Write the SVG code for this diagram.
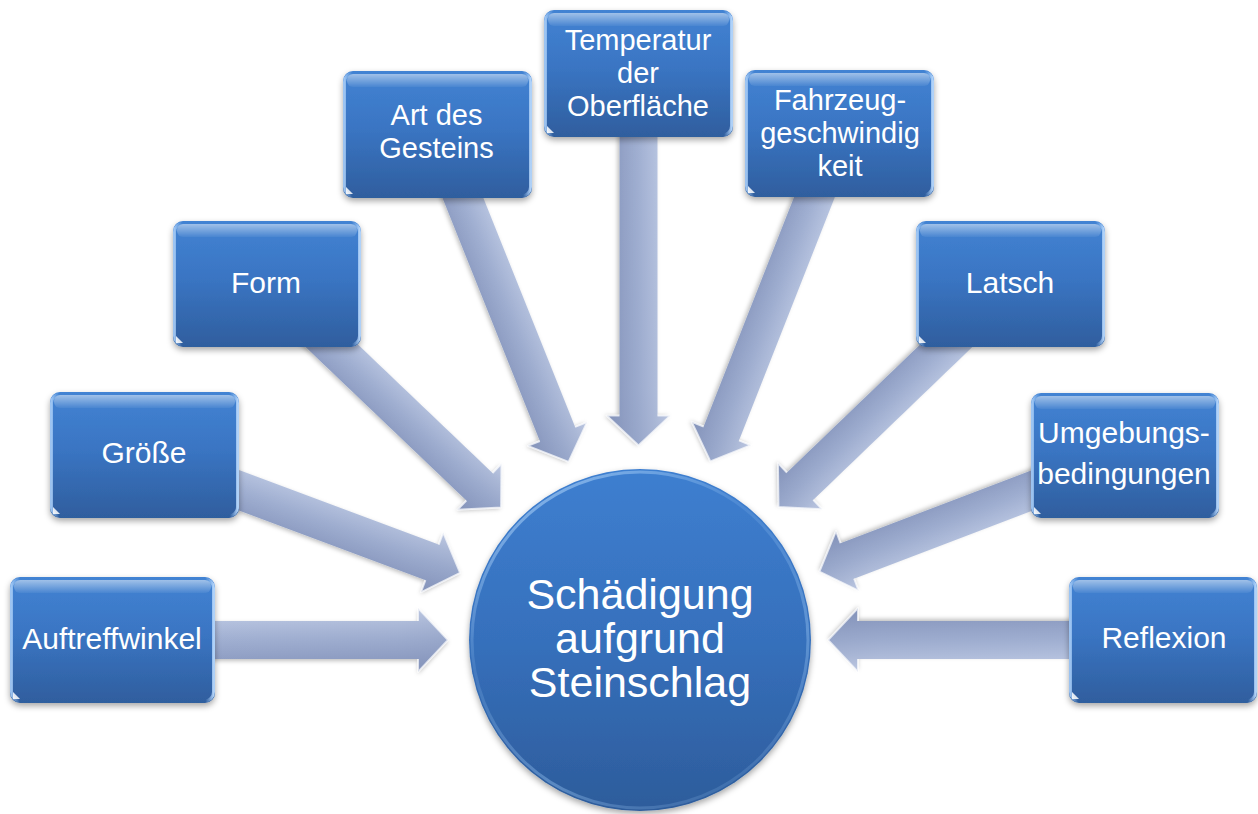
<svg xmlns="http://www.w3.org/2000/svg" width="1258" height="814" viewBox="0 0 1258 814">
<style>
.lbl{font-family:"Liberation Sans",Arial,sans-serif;font-size:30px;fill:#ffffff;text-anchor:middle}
.ml{font-size:29px}
.big{font-size:43px}
.box{fill:url(#boxFill);filter:url(#shadow)}
.gloss{fill:url(#gloss)}
.rim{fill:none;stroke:url(#rimH);stroke-width:3}
.tri{fill:#ffffff;opacity:.85}
.arr{fill:url(#arrFill);filter:url(#ashadow)}
.arrShade{fill:url(#arrLen)}
.bevel{fill:none;stroke:#ffffff;stroke-opacity:.7;stroke-width:2;stroke-linejoin:round}
</style>
<defs>
<linearGradient id="boxFill" x1="0" y1="0" x2="0" y2="1">
<stop offset="0" stop-color="#4283d3"/>
<stop offset="0.45" stop-color="#3a75c3"/>
<stop offset="1" stop-color="#2f5e9e"/>
</linearGradient>
<linearGradient id="gloss" x1="0" y1="0" x2="0" y2="1">
<stop offset="0" stop-color="#ffffff" stop-opacity=".5"/>
<stop offset="1" stop-color="#ffffff" stop-opacity=".05"/>
</linearGradient>
<linearGradient id="rimH" x1="0" y1="0" x2="1" y2="0">
<stop offset="0" stop-color="#a6ccf7" stop-opacity=".9"/>
<stop offset="0.04" stop-color="#a6ccf7" stop-opacity="0"/>
<stop offset="0.96" stop-color="#a6ccf7" stop-opacity="0"/>
<stop offset="1" stop-color="#b5d6fb" stop-opacity=".95"/>
</linearGradient>
<linearGradient id="circFill" x1="0" y1="0" x2="0" y2="1">
<stop offset="0" stop-color="#3e7fd0"/>
<stop offset="0.5" stop-color="#3670bc"/>
<stop offset="1" stop-color="#2d5c9b"/>
</linearGradient>
<linearGradient id="circRim" x1="0.2" y1="0" x2="0.8" y2="1">
<stop offset="0" stop-color="#bfe0ff" stop-opacity=".6"/>
<stop offset="0.35" stop-color="#9cc8f5" stop-opacity=".15"/>
<stop offset="0.7" stop-color="#9cc8f5" stop-opacity=".4"/>
<stop offset="1" stop-color="#9cc8f5" stop-opacity=".1"/>
</linearGradient>
<linearGradient id="arrFill" x1="0" y1="0" x2="0" y2="1">
<stop offset="0" stop-color="#cbd5ec"/>
<stop offset="0.24" stop-color="#b5c2df"/>
<stop offset="0.5" stop-color="#a2b1d3"/>
<stop offset="0.78" stop-color="#92a1c6"/>
<stop offset="1" stop-color="#8796bc"/>
</linearGradient>
<linearGradient id="arrLen" x1="0" y1="0" x2="1" y2="0">
<stop offset="0" stop-color="#6f7ea6" stop-opacity="0"/>
<stop offset="0.85" stop-color="#6f7ea6" stop-opacity=".12"/>
<stop offset="1" stop-color="#6f7ea6" stop-opacity=".2"/>
</linearGradient>
<filter id="shadow" x="-10%" y="-10%" width="120%" height="130%">
<feDropShadow dx="0" dy="3" stdDeviation="3" flood-color="#000000" flood-opacity=".35"/>
</filter>
<filter id="ashadow" x="-10%" y="-20%" width="120%" height="140%">
<feDropShadow dx="0" dy="2" stdDeviation="2" flood-color="#000000" flood-opacity=".25"/>
</filter>
</defs>
<rect width="1258" height="814" fill="#ffffff"/>

<g id="connectors">
<g transform="translate(112.5,640)">
<path class="arr" d="M0,-19 H305.5 V-32 L335.5,0 L305.5,32 V19 H0 Z"/>
<path class="arrShade" d="M0,-19 H305.5 V-32 L335.5,0 L305.5,32 V19 H0 Z"/>
<path class="bevel" d="M305.5,-19 V-32 L335.5,0 L305.5,32 V19"/>
</g>
<g transform="translate(144.5,455) rotate(20.47)">
<path class="arr" d="M0,-19 H306.9 V-32 L336.9,0 L306.9,32 V19 H0 Z"/>
<path class="arrShade" d="M0,-19 H306.9 V-32 L336.9,0 L306.9,32 V19 H0 Z"/>
<path class="bevel" d="M306.9,-19 V-32 L336.9,0 L306.9,32 V19"/>
</g>
<g transform="translate(267,284) rotate(43.66)">
<path class="arr" d="M0,-19 H293.6 V-32 L323.6,0 L293.6,32 V19 H0 Z"/>
<path class="arrShade" d="M0,-19 H293.6 V-32 L323.6,0 L293.6,32 V19 H0 Z"/>
<path class="bevel" d="M293.6,-19 V-32 L323.6,0 L293.6,32 V19"/>
</g>
<g transform="translate(437.5,134.5) rotate(68.17)">
<path class="arr" d="M0,-19 H322.6 V-32 L352.6,0 L322.6,32 V19 H0 Z"/>
<path class="arrShade" d="M0,-19 H322.6 V-32 L352.6,0 L322.6,32 V19 H0 Z"/>
<path class="bevel" d="M322.6,-19 V-32 L352.6,0 L322.6,32 V19"/>
</g>
<g transform="translate(638.5,73.5) rotate(90)">
<path class="arr" d="M0,-19 H342 V-32 L372,0 L342,32 V19 H0 Z"/>
<path class="arrShade" d="M0,-19 H342 V-32 L372,0 L342,32 V19 H0 Z"/>
<path class="bevel" d="M342,-19 V-32 L372,0 L342,32 V19"/>
</g>
<g transform="translate(839.5,133.5) rotate(111.5)">
<path class="arr" d="M0,-19 H322.4 V-32 L352.4,0 L322.4,32 V19 H0 Z"/>
<path class="arrShade" d="M0,-19 H322.4 V-32 L352.4,0 L322.4,32 V19 H0 Z"/>
<path class="bevel" d="M322.4,-19 V-32 L352.4,0 L322.4,32 V19"/>
</g>
<g transform="translate(1010.5,284) rotate(136.14)">
<path class="arr" d="M0,-19 H291.8 V-32 L321.8,0 L291.8,32 V19 H0 Z"/>
<path class="arrShade" d="M0,-19 H291.8 V-32 L321.8,0 L291.8,32 V19 H0 Z"/>
<path class="bevel" d="M291.8,-19 V-32 L321.8,0 L291.8,32 V19"/>
</g>
<g transform="translate(1125,455) rotate(159.12)">
<path class="arr" d="M0,-19 H297.1 V-32 L327.1,0 L297.1,32 V19 H0 Z"/>
<path class="arrShade" d="M0,-19 H297.1 V-32 L327.1,0 L297.1,32 V19 H0 Z"/>
<path class="bevel" d="M297.1,-19 V-32 L327.1,0 L297.1,32 V19"/>
</g>
<g transform="translate(1163.5,640) rotate(180)">
<path class="arr" d="M0,-19 H305.5 V-32 L335.5,0 L305.5,32 V19 H0 Z"/>
<path class="arrShade" d="M0,-19 H305.5 V-32 L335.5,0 L305.5,32 V19 H0 Z"/>
<path class="bevel" d="M305.5,-19 V-32 L335.5,0 L305.5,32 V19"/>
</g>
</g>

<g id="center">
<circle cx="640" cy="640" r="171" fill="url(#circFill)" filter="url(#shadow)"/>
<circle cx="640" cy="640" r="168" fill="none" stroke="url(#circRim)" stroke-width="3"/>
<text class="lbl big"><tspan x="640" y="609">Schädigung</tspan><tspan x="640" y="653">aufgrund</tspan><tspan x="640" y="697">Steinschlag</tspan></text>
</g>

<g id="n-auftreffwinkel">
<rect class="box" x="10" y="577" width="205" height="126" rx="10"/>
<rect class="gloss" x="14" y="580" width="197" height="13" rx="6"/>
<rect class="rim" x="11.5" y="579" width="202" height="122" rx="9"/>
<path class="tri" d="M13,699 V692 L20,699 Z"/>
<text class="lbl" x="112" y="649">Auftreffwinkel</text>
</g>

<g id="n-groesse">
<rect class="box" x="50" y="392" width="189" height="126" rx="10"/>
<rect class="gloss" x="54" y="395" width="181" height="13" rx="6"/>
<rect class="rim" x="51.5" y="394" width="186" height="122" rx="9"/>
<path class="tri" d="M53,514 V507 L60,514 Z"/>
<text class="lbl" x="144" y="463">Größe</text>
</g>

<g id="n-form">
<rect class="box" x="173" y="221" width="188" height="126" rx="10"/>
<rect class="gloss" x="177" y="224" width="180" height="13" rx="6"/>
<rect class="rim" x="174.5" y="223" width="185" height="122" rx="9"/>
<path class="tri" d="M176,343 V336 L183,343 Z"/>
<text class="lbl" x="266" y="293">Form</text>
</g>

<g id="n-art">
<rect class="box" x="343" y="71" width="189" height="127" rx="10"/>
<rect class="gloss" x="347" y="74" width="181" height="13" rx="6"/>
<rect class="rim" x="344.5" y="73" width="186" height="123" rx="9"/>
<path class="tri" d="M346,194 V187 L353,194 Z"/>
<text class="lbl ml"><tspan x="436.5" y="125">Art des</tspan><tspan x="436.5" y="158">Gesteins</tspan></text>
</g>

<g id="n-temperatur">
<rect class="box" x="544" y="10" width="189" height="127" rx="10"/>
<rect class="gloss" x="548" y="13" width="181" height="13" rx="6"/>
<rect class="rim" x="545.5" y="12" width="186" height="123" rx="9"/>
<path class="tri" d="M547,133 V126 L554,133 Z"/>
<text class="lbl ml"><tspan x="638" y="50">Temperatur</tspan><tspan x="638" y="83">der</tspan><tspan x="638" y="116">Oberfläche</tspan></text>
</g>

<g id="n-fahrzeug">
<rect class="box" x="745" y="70" width="189" height="127" rx="10"/>
<rect class="gloss" x="749" y="73" width="181" height="13" rx="6"/>
<rect class="rim" x="746.5" y="72" width="186" height="123" rx="9"/>
<path class="tri" d="M748,193 V186 L755,193 Z"/>
<text class="lbl ml"><tspan x="840" y="110">Fahrzeug-</tspan><tspan x="840" y="143">geschwindig</tspan><tspan x="840" y="176">keit</tspan></text>
</g>

<g id="n-latsch">
<rect class="box" x="916" y="221" width="189" height="126" rx="10"/>
<rect class="gloss" x="920" y="224" width="181" height="13" rx="6"/>
<rect class="rim" x="917.5" y="223" width="186" height="122" rx="9"/>
<path class="tri" d="M919,343 V336 L926,343 Z"/>
<text class="lbl" x="1010" y="293">Latsch</text>
</g>

<g id="n-umgebung">
<rect class="box" x="1031" y="393" width="188" height="125" rx="10"/>
<rect class="gloss" x="1035" y="396" width="180" height="13" rx="6"/>
<rect class="rim" x="1032.5" y="395" width="185" height="121" rx="9"/>
<path class="tri" d="M1034,514 V507 L1041,514 Z"/>
<text class="lbl"><tspan x="1124" y="443">Umgebungs-</tspan><tspan x="1124" y="484">bedingungen</tspan></text>
</g>

<g id="n-reflexion">
<rect class="box" x="1069" y="577" width="188" height="126" rx="10"/>
<rect class="gloss" x="1073" y="580" width="180" height="13" rx="6"/>
<rect class="rim" x="1070.5" y="579" width="185" height="122" rx="9"/>
<path class="tri" d="M1072,699 V692 L1079,699 Z"/>
<text class="lbl" x="1164" y="648">Reflexion</text>
</g>
</svg>
